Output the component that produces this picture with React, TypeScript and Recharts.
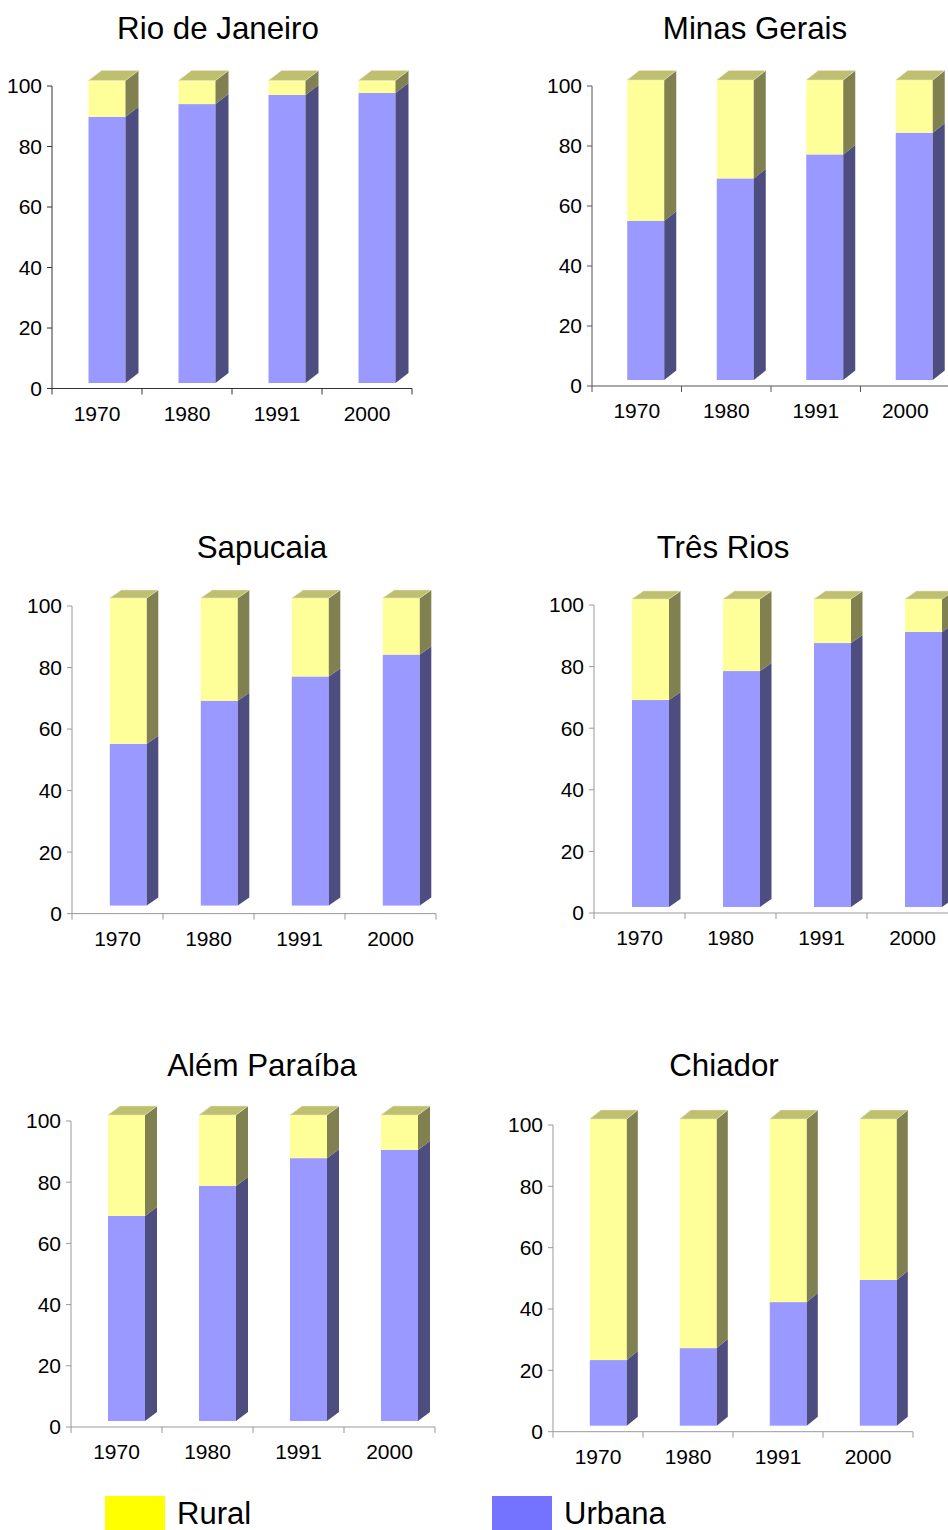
import React from 'react';
import { BarChart, Bar, XAxis, YAxis } from 'recharts';

const YEARS = ['1970', '1980', '1991', '2000'];
const Y_TICKS = [0, 20, 40, 60, 80, 100];

// urban / rural share of the population (%) per census
const RIO_URBANA = [88.0, 92.2, 95.2, 95.9];
const RIO_RURAL = [12.0, 7.8, 4.8, 4.1];
const MINAS_URBANA = [53.1, 67.2, 75.2, 82.4];
const MINAS_RURAL = [46.9, 32.8, 24.8, 17.6];
const SAPUCAIA_URBANA = [52.6, 66.6, 74.5, 81.6];
const SAPUCAIA_RURAL = [47.4, 33.4, 25.5, 18.4];
const TRES_RIOS_URBANA = [67.2, 76.6, 85.7, 89.3];
const TRES_RIOS_RURAL = [32.8, 23.4, 14.3, 10.7];
const ALEM_PARAIBA_URBANA = [67.0, 76.8, 85.9, 88.6];
const ALEM_PARAIBA_RURAL = [33.0, 23.2, 14.1, 11.4];
const CHIADOR_URBANA = [21.4, 25.3, 40.3, 47.5];
const CHIADOR_RURAL = [78.6, 74.7, 59.7, 52.5];

const COLORS = {
  urbanaFront: '#9999ff',
  urbanaSide: '#4d4d80',
  ruralFront: '#ffff99',
  ruralSide: '#808050',
  ruralTop: '#bfbf70',
  legendRural: '#ffff00',
  legendUrbana: '#7373ff',
};

const BAR_W = 37;
const Y_AXIS_W = 60;
const TOP_PAD = 30;
const X_AXIS_H = 50;

type Panel = {
  title: string;
  titleX: number;
  titleY: number;
  urbana: number[];
  rural: number[];
  axisX: number;
  plotRight: number;
  y100: number;
  y0: number;
  frontOffset: number; // bar front edge, measured from the band start
  lift: number;
  dx: number;
  dy: number;
  axisColor: string;
};

const PANELS: Panel[] = [
  { title: 'Rio de Janeiro', titleX: 218, titleY: 28, urbana: RIO_URBANA, rural: RIO_RURAL,
    axisX: 52, plotRight: 412, y100: 86, y0: 388.5, frontOffset: 36, lift: 5.5, dx: 13, dy: 10, axisColor: '#333' },
  { title: 'Minas Gerais', titleX: 755, titleY: 28, urbana: MINAS_URBANA, rural: MINAS_RURAL,
    axisX: 592, plotRight: 950, y100: 86, y0: 386, frontOffset: 35.5, lift: 6, dx: 12, dy: 9.5, axisColor: '#555' },
  { title: 'Sapucaia', titleX: 262, titleY: 547, urbana: SAPUCAIA_URBANA, rural: SAPUCAIA_RURAL,
    axisX: 71.5, plotRight: 435.5, y100: 605.7, y0: 913.3, frontOffset: 37.8, lift: 8, dx: 11.5, dy: 8, axisColor: '#999' },
  { title: 'Três Rios', titleX: 723, titleY: 547, urbana: TRES_RIOS_URBANA, rural: TRES_RIOS_RURAL,
    axisX: 594, plotRight: 958, y100: 605, y0: 913, frontOffset: 38, lift: 6, dx: 11.5, dy: 8, axisColor: '#999' },
  { title: 'Além Paraíba', titleX: 262, titleY: 1065, urbana: ALEM_PARAIBA_URBANA, rural: ALEM_PARAIBA_RURAL,
    axisX: 71, plotRight: 435, y100: 1121, y0: 1427, frontOffset: 37, lift: 6, dx: 12, dy: 9, axisColor: '#999' },
  { title: 'Chiador', titleX: 724, titleY: 1065, urbana: CHIADOR_URBANA, rural: CHIADOR_RURAL,
    axisX: 553, plotRight: 913, y100: 1125, y0: 1431.7, frontOffset: 36.3, lift: 6, dx: 11, dy: 9, axisColor: '#999' },
];

// front face + right side, plus the lid on the upper segment
const make3DBar = (kind: 'urbana' | 'rural', shiftX: number, lift: number, dx: number, dy: number) =>
  (props: any) => {
    const { x, y, width, height } = props;
    if (!height || height <= 0) return <g />;
    const fx = x + shiftX;
    const fy = y - lift;
    const r = fx + width;
    const b = fy + height;
    const front = kind === 'urbana' ? COLORS.urbanaFront : COLORS.ruralFront;
    const side = kind === 'urbana' ? COLORS.urbanaSide : COLORS.ruralSide;
    return (
      <g>
        <rect x={fx} y={fy} width={width} height={height} fill={front} />
        <polygon points={`${r},${b} ${r + dx},${b - dy} ${r + dx},${fy - dy} ${r},${fy}`} fill={side} />
        {kind === 'rural' && (
          <polygon
            points={`${fx},${fy} ${fx + dx},${fy - dy} ${r + dx},${fy - dy} ${r},${fy}`}
            fill={COLORS.ruralTop}
            stroke="#e6e6c8"
            strokeWidth={0.6}
          />
        )}
      </g>
    );
  };

// year label in the band centre, tick marks on the band edges
const makeYearTick = (band: number, color: string) => (props: any) => {
  const { x, y, payload, index } = props;
  const last = index === YEARS.length - 1;
  return (
    <g>
      <line x1={x - band / 2} x2={x - band / 2} y1={y} y2={y + 6} stroke={color} />
      {last && <line x1={x + band / 2} x2={x + band / 2} y1={y} y2={y + 6} stroke={color} />}
      <text x={x} y={y + 32} textAnchor="middle" fontSize={21} fill="#000">
        {payload.value}
      </text>
    </g>
  );
};

const PopulationPanel: React.FC<{ p: Panel }> = ({ p }) => {
  const data = YEARS.map((year, i) => ({ year, urbana: p.urbana[i], rural: p.rural[i] }));
  const plotW = p.plotRight - p.axisX;
  const band = plotW / YEARS.length;
  const shiftX = p.frontOffset - (band - BAR_W) / 2;
  const left = p.axisX - Y_AXIS_W;
  const top = p.y100 - TOP_PAD;
  const width = Y_AXIS_W + plotW + 20;
  const height = p.y0 - p.y100 + TOP_PAD + X_AXIS_H;

  return (
    <>
      <div
        style={{
          position: 'absolute',
          left: p.titleX,
          top: p.titleY - 15,
          transform: 'translateX(-50%)',
          fontSize: 31.3,
          lineHeight: '31px',
          whiteSpace: 'nowrap',
          color: '#000',
        }}
      >
        {p.title}
      </div>
      <div style={{ position: 'absolute', left, top }}>
        <BarChart width={width} height={height} data={data} margin={{ top: TOP_PAD, right: 20, left: 0, bottom: 0 }}>
          <XAxis
            dataKey="year"
            height={X_AXIS_H}
            interval={0}
            tickLine={false}
            tickSize={0}
            tickMargin={0}
            stroke={p.axisColor}
            tick={makeYearTick(band, p.axisColor)}
          />
          <YAxis
            type="number"
            domain={[0, 100]}
            ticks={Y_TICKS}
            interval={0}
            width={Y_AXIS_W}
            tickSize={5}
            tickMargin={5}
            stroke={p.axisColor}
            tick={{ fill: '#000', fontSize: 21 }}
          />
          <Bar
            dataKey="urbana"
            stackId="pop"
            barSize={BAR_W}
            isAnimationActive={false}
            shape={make3DBar('urbana', shiftX, p.lift, p.dx, p.dy)}
          />
          <Bar
            dataKey="rural"
            stackId="pop"
            barSize={BAR_W}
            isAnimationActive={false}
            shape={make3DBar('rural', shiftX, p.lift, p.dx, p.dy)}
          />
        </BarChart>
      </div>
    </>
  );
};

const LegendItem: React.FC<{ x: number; color: string; label: string }> = ({ x, color, label }) => (
  <>
    <div style={{ position: 'absolute', left: x, top: 1496, width: 60, height: 34, background: color }} />
    <div style={{ position: 'absolute', left: x + 72, top: 1501, fontSize: 31, lineHeight: '26px', color: '#000' }}>
      {label}
    </div>
  </>
);

export default function App() {
  return (
    <div
      style={{
        position: 'absolute',
        left: 0,
        top: 0,
        width: 948,
        height: 1530,
        overflow: 'hidden',
        background: '#fff',
        fontFamily: '"Liberation Sans", Arial, sans-serif',
      }}
    >
      {PANELS.map((p) => (
        <PopulationPanel key={p.title} p={p} />
      ))}
      <LegendItem x={105} color={COLORS.legendRural} label="Rural" />
      <LegendItem x={492} color={COLORS.legendUrbana} label="Urbana" />
    </div>
  );
}
